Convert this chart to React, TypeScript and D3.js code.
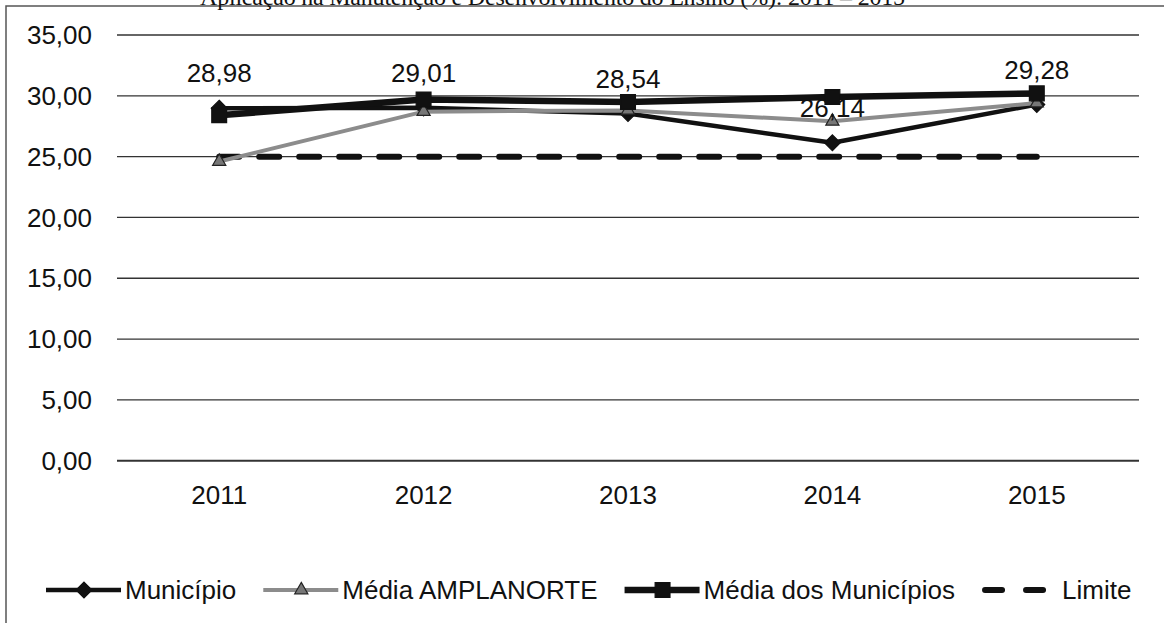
import React, { useEffect, useRef } from "react";
import * as d3 from "d3";

const years = ["2011", "2012", "2013", "2014", "2015"];
const municipio = [28.98, 29.01, 28.54, 26.14, 29.28];
const mediaAmplanorte = [24.6, 28.7, 28.8, 27.9, 29.4];
const mediaMunicipios = [28.4, 29.7, 29.5, 29.9, 30.2];
const limite = [25, 25, 25, 25, 25];
const yTicks = [0, 5, 10, 15, 20, 25, 30, 35];
const legendNames = ["Município", "Média AMPLANORTE", "Média dos Municípios", "Limite"];
const title = "Aplicação na Manutenção e Desenvolvimento do Ensino (%): 2011 – 2015";

const W = 1164;
const H = 623;
const FONT = "'Liberation Sans', Arial, sans-serif";

const fmt = (v: number) => v.toFixed(2).replace(".", ",");

const App = () => {
  const ref = useRef<SVGSVGElement>(null);

  useEffect(() => {
    document.body.style.margin = "0";
    const svg = d3.select(ref.current);
    svg.selectAll("*").remove();

    const x = d3.scalePoint<string>().domain(years).range([117, 1139]).padding(0.5);
    const y = d3.scaleLinear().domain([0, 35]).range([460.7, 35]);

    svg.append("rect").attr("width", W).attr("height", H).attr("fill", "#fff");

    // page frame of the scan
    svg.append("path")
      .attr("d", `M6,${H} V6 H${W}`)
      .attr("fill", "none")
      .attr("stroke", "#555")
      .attr("stroke-width", 1.5);

    // title, cut by the top edge as in the scan
    svg.append("text")
      .attr("x", 200)
      .attr("y", 5)
      .attr("font-family", "'Liberation Serif', 'Times New Roman', serif")
      .attr("font-size", 24)
      .attr("textLength", 705)
      .attr("fill", "#111")
      .text(title);

    // grid
    svg.append("g")
      .selectAll("line")
      .data(yTicks)
      .join("line")
      .attr("x1", 117)
      .attr("x2", 1139)
      .attr("y1", d => y(d))
      .attr("y2", d => y(d))
      .attr("stroke", "#333")
      .attr("stroke-width", d => (d === 0 ? 2 : 1.3));

    // y labels
    svg.append("g")
      .selectAll("text")
      .data(yTicks)
      .join("text")
      .attr("x", 92)
      .attr("y", d => y(d))
      .attr("dy", "0.35em")
      .attr("text-anchor", "end")
      .attr("font-family", FONT)
      .attr("font-size", 26)
      .attr("fill", "#111")
      .text(d => fmt(d));

    // x labels
    svg.append("g")
      .selectAll("text")
      .data(years)
      .join("text")
      .attr("x", d => x(d)!)
      .attr("y", 504)
      .attr("text-anchor", "middle")
      .attr("font-family", FONT)
      .attr("font-size", 26)
      .attr("fill", "#111")
      .text(d => d);

    const line = d3.line<number>().x((_, i) => x(years[i])!).y(d => y(d));

    const diamond = d3.symbol().type(d3.symbolDiamond2).size(160);
    const triangle = d3.symbol().type(d3.symbolTriangle).size(75);
    const square = d3.symbol().type(d3.symbolSquare).size(220);

    const series = [
      { values: municipio, color: "#111", width: 4.5, sym: diamond, fill: "#111", stroke: "#111" },
      { values: mediaAmplanorte, color: "#8c8c8c", width: 4, sym: triangle, fill: "#777", stroke: "#222" },
      { values: mediaMunicipios, color: "#111", width: 6.5, sym: square, fill: "#111", stroke: "#111" },
    ];

    // Limite (dashed)
    svg.append("path")
      .datum(limite)
      .attr("d", line)
      .attr("fill", "none")
      .attr("stroke", "#111")
      .attr("stroke-width", 6)
      .attr("stroke-dasharray", "20 20")
      .attr("stroke-linecap", "round");

    series.forEach(s => {
      svg.append("path")
        .datum(s.values)
        .attr("d", line)
        .attr("fill", "none")
        .attr("stroke", s.color)
        .attr("stroke-width", s.width)
        .attr("stroke-linejoin", "round");
      svg.append("g")
        .selectAll("path")
        .data(s.values)
        .join("path")
        .attr("transform", (d, i) => `translate(${x(years[i])},${y(d)})`)
        .attr("d", s.sym() as string)
        .attr("fill", s.fill)
        .attr("stroke", s.stroke)
        .attr("stroke-width", 1.2);
    });

    // data labels (Município)
    svg.append("g")
      .selectAll("text")
      .data(municipio)
      .join("text")
      .attr("x", (_, i) => x(years[i])!)
      .attr("y", d => y(d) - 26)
      .attr("text-anchor", "middle")
      .attr("font-family", FONT)
      .attr("font-size", 26)
      .attr("fill", "#111")
      .text(d => fmt(d));

    // legend
    const leg = svg.append("g").attr("transform", "translate(46,590)");
    let cx = 0;
    legendNames.forEach((name, i) => {
      const g = leg.append("g").attr("transform", `translate(${cx},0)`);
      if (i === 3) {
        g.append("path")
          .attr("d", "M3,0 H20 M44,0 H61")
          .attr("stroke", "#111")
          .attr("stroke-width", 6)
          .attr("stroke-linecap", "round");
      } else {
        const s = series[i];
        g.append("line")
          .attr("x1", 0)
          .attr("x2", 75)
          .attr("stroke", s.color)
          .attr("stroke-width", s.width);
        g.append("path")
          .attr("transform", "translate(38,0)")
          .attr("d", s.sym() as string)
          .attr("fill", s.fill)
          .attr("stroke", s.stroke)
          .attr("stroke-width", 1.2);
      }
      const tx = i === 3 ? 80 : 79;
      const t = g.append("text")
        .attr("x", tx)
        .attr("y", 0)
        .attr("dy", "0.35em")
        .attr("font-family", FONT)
        .attr("font-size", 26)
        .attr("fill", "#111")
        .text(name);
      const w = (t.node() as SVGTextElement).getComputedTextLength();
      cx += tx + w + 27;
    });
  }, []);

  return (
    <svg
      ref={ref}
      width={W}
      height={H}
      style={{ position: "absolute", left: 0, top: 0, display: "block" }}
    />
  );
};

export default App;
